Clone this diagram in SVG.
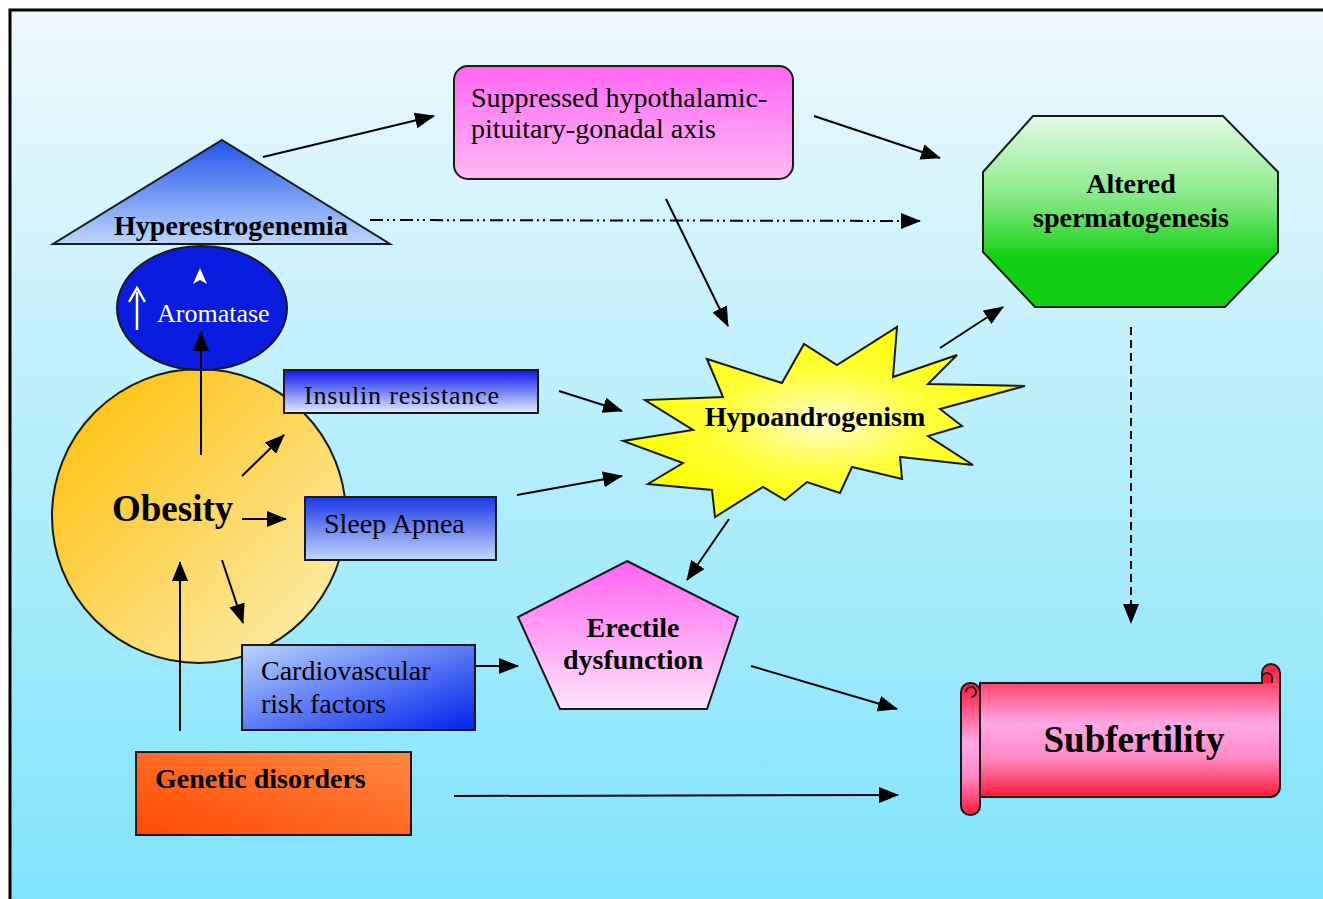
<svg xmlns="http://www.w3.org/2000/svg" width="1323" height="899" viewBox="0 0 1323 899">
<defs>
<linearGradient id="bg" x1="0" y1="0" x2="0" y2="1">
<stop offset="0" stop-color="#eef9fd"/>
<stop offset="0.5" stop-color="#b4eefb"/>
<stop offset="1" stop-color="#7ee3fc"/>
</linearGradient>
<linearGradient id="gTri" x1="0" y1="0" x2="0" y2="1">
<stop offset="0" stop-color="#1f55ea"/>
<stop offset="1" stop-color="#bcd6fa"/>
</linearGradient>
<linearGradient id="gObe" x1="0" y1="0" x2="1" y2="1">
<stop offset="0" stop-color="#fcbd00"/>
<stop offset="1" stop-color="#fdf0b8"/>
</linearGradient>
<linearGradient id="gBlueDown" x1="0" y1="0" x2="0" y2="1">
<stop offset="0" stop-color="#0818e8"/>
<stop offset="1" stop-color="#e4ecff"/>
</linearGradient>
<linearGradient id="gSleep" x1="0" y1="0" x2="0" y2="1">
<stop offset="0" stop-color="#1a36e6"/>
<stop offset="1" stop-color="#c4d8fc"/>
</linearGradient>
<linearGradient id="gCardio" x1="0" y1="0" x2="1" y2="1">
<stop offset="0" stop-color="#b8d4fc"/>
<stop offset="1" stop-color="#0022ee"/>
</linearGradient>
<linearGradient id="gGen" x1="0" y1="1" x2="1" y2="0">
<stop offset="0" stop-color="#ff4a00"/>
<stop offset="1" stop-color="#ff8844"/>
</linearGradient>
<linearGradient id="gPink" x1="0" y1="0" x2="0" y2="1">
<stop offset="0" stop-color="#ff62f2"/>
<stop offset="1" stop-color="#ffe4fa"/>
</linearGradient>
<linearGradient id="gSupp" x1="0" y1="0" x2="0" y2="1">
<stop offset="0" stop-color="#ff66f2"/>
<stop offset="1" stop-color="#ffbaf6"/>
</linearGradient>
<linearGradient id="gGreen" x1="0" y1="0" x2="0" y2="1">
<stop offset="0" stop-color="#e4fbe4"/>
<stop offset="0.45" stop-color="#80e880"/>
<stop offset="0.75" stop-color="#10d010"/>
<stop offset="1" stop-color="#10d010"/>
</linearGradient>
<radialGradient id="gStar" cx="0.5" cy="0.5" r="0.5">
<stop offset="0" stop-color="#ffffd0"/>
<stop offset="0.5" stop-color="#ffff40"/>
<stop offset="1" stop-color="#ffff00"/>
</radialGradient>
<linearGradient id="gScroll" x1="0" y1="0" x2="0" y2="1">
<stop offset="0" stop-color="#ff1838"/>
<stop offset="0.45" stop-color="#ffa8e4"/>
<stop offset="0.7" stop-color="#ff8cc8"/>
<stop offset="1" stop-color="#ff1838"/>
</linearGradient>
<marker id="ah" markerUnits="userSpaceOnUse" markerWidth="20" markerHeight="16" refX="19" refY="8" orient="auto">
<path d="M0,0 L20,8 L0,16 Z" fill="#000"/>
</marker>
</defs>
<style>
.ln{stroke:#000;stroke-width:2;fill:none;marker-end:url(#ah)}
.shape{stroke:#1a1a1a;stroke-width:2}
.t{font-family:"Liberation Serif","Times New Roman",serif;font-size:28px;fill:#000}
.b{font-weight:bold}
</style>
<rect x="0" y="0" width="1323" height="899" fill="#ffffff"/>
<rect x="10" y="10" width="1330" height="900" fill="url(#bg)" stroke="#000" stroke-width="3"/>

<g id="connectors">
<line class="ln" x1="263" y1="157" x2="434" y2="116"/>
<line class="ln" x1="370" y1="220" x2="920" y2="221" stroke-dasharray="13,4,2,4,2,5"/>
<line class="ln" x1="814" y1="116" x2="940" y2="158"/>
<line class="ln" x1="666" y1="199" x2="728" y2="326"/>
<line class="ln" x1="940" y1="348" x2="1003" y2="307"/>
<line class="ln" x1="1131" y1="327" x2="1131" y2="623" stroke-dasharray="8,5"/>
<line class="ln" x1="559" y1="391" x2="622" y2="411"/>
<line class="ln" x1="517" y1="495" x2="622" y2="476"/>
<line class="ln" x1="729" y1="519" x2="687" y2="580"/>
<line class="ln" x1="751" y1="666" x2="897" y2="709"/>
<line class="ln" x1="454" y1="796" x2="898" y2="795"/>
<line class="ln" x1="476" y1="666" x2="518" y2="666"/>
</g>

<g id="hyperestrogenemia">
<polygon class="shape" points="222,140 390,244 53,244" fill="url(#gTri)"/>
<text class="t b" x="231" y="235" text-anchor="middle">Hyperestrogenemia</text>
</g>

<g id="obesity">
<circle class="shape" cx="199" cy="516" r="147" fill="url(#gObe)"/>
<text class="t b" x="112" y="521" font-size="37" style="font-size:37px">Obesity</text>
</g>

<g id="aromatase">
<ellipse class="shape" cx="202" cy="308" rx="85" ry="62" fill="#0a1ce0"/>
<text class="t" x="157" y="322" style="font-size:26px;fill:#fff">Aromatase</text>
<line x1="137" y1="330" x2="137" y2="292" stroke="#fff" stroke-width="2.5"/>
<path d="M129,302 L137,288 L145,302" stroke="#fff" stroke-width="2.5" fill="none"/>
<path d="M200,268 L207,284 L200,280 L193,284 Z" fill="#fff"/>
</g>

<g id="obesity-arrows">
<line class="ln" x1="201" y1="455" x2="201" y2="332"/>
<line class="ln" x1="180" y1="731" x2="180" y2="562"/>
<line class="ln" x1="242" y1="476" x2="284" y2="435"/>
<line class="ln" x1="242" y1="519" x2="286" y2="519"/>
<line class="ln" x1="222" y1="560" x2="243" y2="623"/>
</g>

<g id="insulin">
<rect class="shape" x="284" y="370" width="254" height="43" fill="url(#gBlueDown)"/>
<text class="t" x="304" y="404" textLength="195" lengthAdjust="spacing" style="font-size:26px">Insulin resistance</text>
</g>

<g id="sleep">
<rect class="shape" x="305" y="497" width="191" height="63" fill="url(#gSleep)"/>
<text class="t" x="324" y="533">Sleep Apnea</text>
</g>

<g id="cardio">
<rect class="shape" x="242" y="645" width="233" height="85" fill="url(#gCardio)"/>
<text class="t" x="261" y="680">Cardiovascular</text>
<text class="t" x="261" y="713">risk factors</text>
</g>

<g id="genetic">
<rect class="shape" x="136" y="752" width="275" height="83" fill="url(#gGen)"/>
<text class="t b" x="155" y="788">Genetic disorders</text>
</g>

<g id="erectile">
<polygon class="shape" points="627,561 738,617 707,709 560,709 518,617" fill="url(#gPink)"/>
<text class="t b" x="633" y="637" text-anchor="middle">Erectile</text>
<text class="t b" x="633" y="669" text-anchor="middle">dysfunction</text>
</g>

<g id="suppressed">
<rect class="shape" x="454" y="66" width="339" height="113" rx="14" fill="url(#gSupp)"/>
<text class="t" x="471" y="107">Suppressed hypothalamic-</text>
<text class="t" x="471" y="138">pituitary-gonadal axis</text>
</g>

<g id="altered">
<polygon class="shape" points="1033,116 1223,116 1278,172 1278,252 1225,307 1035,307 983,252 983,172" fill="url(#gGreen)"/>
<text class="t b" x="1131" y="193" text-anchor="middle">Altered</text>
<text class="t b" x="1131" y="227" text-anchor="middle">spermatogenesis</text>
</g>

<g id="hypoandrogenism">
<polygon class="shape" points="707,359 782,383 804,344 837,365 897,327 893,377 957,355 928,384 1025,386 940,409 962,426 928,436 973,465 900,457 902,479 852,467 840,493 807,482 785,500 763,487 715,517 712,490 648,484 683,463 623,441 693,430 645,400 723,397" fill="url(#gStar)"/>
<text class="t b" x="815" y="426" text-anchor="middle">Hypoandrogenism</text>
</g>

<g id="subfertility">
<path class="shape" d="M980,683 H1262 V673 A9,9 0 0 1 1280,673 V787 A10,10 0 0 1 1270,797 H980 Z" fill="url(#gScroll)"/>
<path class="shape" d="M1262,683 V678 A5,5 0 0 1 1272,678 V683" fill="#ff1838"/>
<rect class="shape" x="961" y="683" width="19" height="132" rx="9" fill="url(#gScroll)"/>
<path d="M966,692 A5,5 0 0 1 976,692 A5,5 0 0 1 971,697" stroke="#1a1a1a" stroke-width="2" fill="none"/>
<text class="t b" x="1134" y="752" text-anchor="middle" style="font-size:37px">Subfertility</text>
</g>
</svg>
